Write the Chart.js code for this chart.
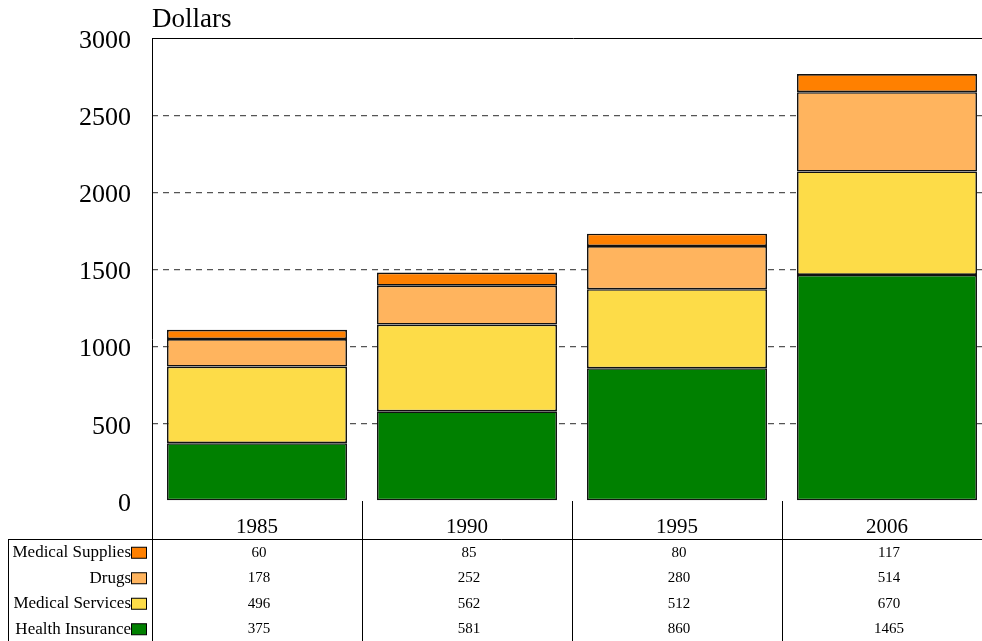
<!DOCTYPE html>
<html>
<head>
<meta charset="utf-8">
<script src="https://cdn.jsdelivr.net/npm/chart.js@4.4.0/dist/chart.umd.min.js"></script>
<style>
  body { margin: 0; overflow: hidden; background: #fff; }
  #wrap { width: 995px; height: 641px; }
</style>
</head>
<body>
<div id="wrap"><canvas id="costChart" width="995" height="641"></canvas></div>
<script>
const years = ['1985', '1990', '1995', '2006'];
const healthInsurance = [375, 581, 860, 1465];
const medicalServices = [496, 562, 512, 670];
const drugs = [178, 252, 280, 514];
const medicalSupplies = [60, 85, 80, 117];
const yTicks = [0, 500, 1000, 1500, 2000, 2500, 3000];

const serif = '"Liberation Serif", "DejaVu Serif", serif';

const series = [
  { label: 'Health Insurance', data: healthInsurance, color: '#008000' },
  { label: 'Medical Services', data: medicalServices, color: '#FDDC48' },
  { label: 'Drugs', data: drugs, color: '#FFB45E' },
  { label: 'Medical Supplies', data: medicalSupplies, color: '#FF8000' }
];

// draws the title, frame and the data table under the plot
const tablePlugin = {
  id: 'dataTable',
  afterDraw(chart) {
    const ctx = chart.ctx;
    const area = chart.chartArea;
    const x = chart.scales.x;
    const half = (x.getPixelForValue(1) - x.getPixelForValue(0)) / 2;
    const headBottom = 539;
    const rowH = 25.5;

    ctx.save();
    ctx.fillStyle = '#000';
    ctx.font = '27px ' + serif;
    ctx.textAlign = 'left';
    ctx.textBaseline = 'alphabetic';
    ctx.fillText('Dollars', area.left, 27);

    ctx.strokeStyle = '#000';
    ctx.lineWidth = 1;
    ctx.setLineDash([]);
    ctx.beginPath();
    ctx.moveTo(area.left, area.top + 0.5);
    ctx.lineTo(chart.width, area.top + 0.5);
    ctx.moveTo(area.left + 0.5, area.top);
    ctx.lineTo(area.left + 0.5, chart.height);
    years.forEach((y, i) => {
      const r = Math.round(x.getPixelForValue(i) + half) + 0.5;
      ctx.moveTo(r, area.bottom);
      ctx.lineTo(r, chart.height);
    });
    ctx.moveTo(8.5, headBottom + 0.5);
    ctx.lineTo(chart.width, headBottom + 0.5);
    ctx.moveTo(8.5, headBottom);
    ctx.lineTo(8.5, chart.height);
    ctx.stroke();

    ctx.font = '21px ' + serif;
    ctx.textAlign = 'center';
    ctx.textBaseline = 'middle';
    years.forEach((y, i) => {
      ctx.fillText(y, x.getPixelForValue(i), 527);
    });

    const rows = series.slice().reverse();
    rows.forEach((s, r) => {
      const cy = headBottom + rowH * r + rowH / 2 + 1;
      ctx.font = '17px ' + serif;
      ctx.textAlign = 'right';
      ctx.fillStyle = '#000';
      ctx.fillText(s.label, 131, cy);
      ctx.fillStyle = s.color;
      ctx.fillRect(131.5, cy - 5.5, 15, 11);
      ctx.strokeRect(131.5, cy - 5.5, 15, 11);
      ctx.fillStyle = '#000';
      ctx.textAlign = 'center';
      ctx.font = '15px ' + serif;
      s.data.forEach((v, i) => {
        ctx.fillText(String(v), x.getPixelForValue(i) + 2, cy);
      });
    });
    ctx.restore();
  }
};

new Chart(document.getElementById('costChart').getContext('2d'), {
  type: 'bar',
  data: {
    labels: years,
    datasets: series.map(s => ({
      label: s.label,
      data: s.data,
      backgroundColor: s.color,
      borderColor: '#111',
      borderWidth: 1.6,
      borderSkipped: false,
      categoryPercentage: 1,
      barPercentage: 0.857
    }))
  },
  options: {
    responsive: false,
    animation: false,
    layout: { padding: { left: 0, top: 38, right: 3, bottom: 140 } },
    plugins: {
      legend: { display: false },
      tooltip: { enabled: false }
    },
    scales: {
      x: { stacked: true, display: false },
      y: {
        stacked: true,
        min: 0,
        max: 3000,
        afterFit(scale) { scale.width = 152; },
        afterBuildTicks(scale) { scale.ticks = yTicks.map(v => ({ value: v })); },
        border: { display: false, dash: [6, 5] },
        grid: {
          drawTicks: false,
          color: ctx => (ctx.tick && (ctx.tick.value === 0 || ctx.tick.value === 3000)) ? 'rgba(0,0,0,0)' : '#555',
          lineWidth: 1.3,
          borderDash: [6, 5]
        },
        ticks: {
          color: '#000',
          padding: 21,
          labelOffset: 3,
          font: { family: serif, size: 26 },
          callback: v => String(v)
        }
      }
    }
  },
  plugins: [tablePlugin]
});
</script>
</body>
</html>
